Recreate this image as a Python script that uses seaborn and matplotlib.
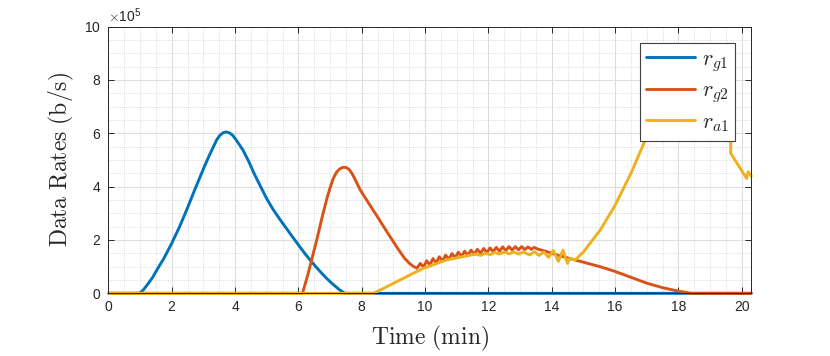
import numpy as np
import pandas as pd
import matplotlib
matplotlib.use("Agg")
import matplotlib.pyplot as plt
from matplotlib.ticker import MultipleLocator
import seaborn as sns

# data rates in units of 1e5 b/s, time in minutes
t_g1 = [0, 0.98, 1.1, 1.25, 1.4, 1.53, 1.75, 2.0, 2.25, 2.5, 2.7, 2.9, 3.05, 3.2, 3.32, 3.42,
        3.52, 3.62, 3.72, 3.82, 3.92, 4.02, 4.14, 4.26, 4.43, 4.6, 4.8, 5.0, 5.2, 5.4,
        5.6, 5.8, 6.0, 6.2, 6.37, 6.55, 6.7, 6.9, 7.1, 7.3, 7.47, 20.3]
r_g1 = [0, 0, 0.12, 0.35, 0.6, 0.87, 1.3, 1.87, 2.5, 3.2, 3.8, 4.37, 4.8, 5.2, 5.5, 5.75,
        5.92, 6.02, 6.05, 6.02, 5.93, 5.78, 5.57, 5.35, 4.95, 4.5, 4.02, 3.55, 3.15, 2.8,
        2.47, 2.14, 1.82, 1.5, 1.25, 1.0, 0.8, 0.55, 0.33, 0.13, 0, 0]

t_g2 = [0, 6.13, 6.3, 6.45, 6.58, 6.75, 6.9, 7.0, 7.1, 7.2, 7.3, 7.4, 7.5, 7.6, 7.7, 7.8,
        7.95, 8.1, 8.3, 8.47, 8.65, 8.8, 9.0, 9.16, 9.35, 9.5, 9.62, 9.74,
        9.85, 9.95, 10.05, 10.15, 10.25, 10.35, 10.45, 10.55, 10.65, 10.75, 10.85, 10.95,
        11.05, 11.15, 11.25, 11.35, 11.45, 11.55, 11.65, 11.75, 11.85, 11.95, 12.05, 12.15,
        12.25, 12.35, 12.45, 12.55, 12.65, 12.75, 12.85, 12.95, 13.05, 13.15, 13.25, 13.35,
        13.45, 13.55, 13.8, 14.16, 14.74, 15.52, 16.0, 16.5, 17.0, 17.5, 18.0, 18.4, 20.3]
r_g2 = [0, 0, 0.7, 1.4, 2.0, 2.85, 3.55, 3.95, 4.3, 4.53, 4.66, 4.72, 4.72, 4.65, 4.48, 4.25,
        3.88, 3.6, 3.23, 2.92, 2.58, 2.3, 1.93, 1.64, 1.32, 1.13, 1.02, 0.94,
        1.12, 0.98, 1.22, 1.06, 1.30, 1.14, 1.37, 1.21, 1.43, 1.27, 1.49, 1.33,
        1.54, 1.38, 1.58, 1.42, 1.62, 1.46, 1.65, 1.50, 1.68, 1.53, 1.70, 1.56,
        1.72, 1.58, 1.74, 1.60, 1.75, 1.62, 1.75, 1.63, 1.75, 1.64, 1.74, 1.65,
        1.72, 1.66, 1.58, 1.44, 1.25, 1.0, 0.82, 0.6, 0.38, 0.21, 0.08, 0, 0]

t_a1 = [0, 8.37, 8.58, 9.21, 9.95, 10.68, 11.3, 11.6, 11.75, 11.9, 12.05, 12.2, 12.35, 12.5,
        12.65, 12.8, 12.95, 13.1, 13.3, 13.45, 13.6, 13.75, 13.9, 14.05, 14.21, 14.35, 14.5,
        14.55, 14.74, 15.0, 15.53, 16.0, 16.5, 16.95, 17.3, 18.5, 19.65, 19.65, 20.15, 20.2, 20.3]
r_a1 = [0, 0, 0.12, 0.5, 0.94, 1.25, 1.4, 1.47, 1.42, 1.5, 1.45, 1.53, 1.47, 1.55, 1.48,
        1.55, 1.47, 1.55, 1.44, 1.56, 1.42, 1.55, 1.35, 1.6, 1.2, 1.62, 1.12,
        1.3, 1.25, 1.55, 2.37, 3.3, 4.5, 5.74, 6.6, 6.8, 6.8, 5.25, 4.31, 4.56, 4.4]

labels = [r"$r_{g1}$", r"$r_{g2}$", r"$r_{a1}$"]
colors = ["#0072BD", "#D95319", "#EDB120"]

df = pd.concat([
    pd.DataFrame({"t": t_g1, "rate": np.array(r_g1) * 1e5, "series": labels[0]}),
    pd.DataFrame({"t": t_g2, "rate": np.array(r_g2) * 1e5, "series": labels[1]}),
    pd.DataFrame({"t": t_a1, "rate": np.array(r_a1) * 1e5, "series": labels[2]}),
], ignore_index=True)

sns.set_theme(style="ticks")
plt.rcParams["font.family"] = ["Liberation Sans", "DejaVu Sans"]
plt.rcParams["mathtext.fontset"] = "cm"

fig = plt.figure(figsize=(8.3, 3.56), dpi=100)
ax = fig.add_axes([0.1305, 0.1761, 0.7747, 0.7492])

sns.lineplot(data=df, x="t", y="rate", hue="series", palette=colors,
             estimator=None, sort=False, linewidth=2.1, ax=ax)
for ln in ax.lines:
    ln.set_clip_on(False)
    ln.set_solid_joinstyle("round")

ax.set_xlim(0, 20.3)
ax.set_ylim(0, 1e6)
ax.xaxis.set_major_locator(MultipleLocator(2))
ax.xaxis.set_minor_locator(MultipleLocator(0.5))
ax.yaxis.set_major_locator(MultipleLocator(2e5))
ax.yaxis.set_minor_locator(MultipleLocator(0.5e5))
ax.ticklabel_format(axis="y", style="sci", scilimits=(5, 5), useMathText=True)
ax.yaxis.get_offset_text().set_fontsize(10)
ax.yaxis.get_offset_text().set_color("#262626")

ax.grid(which="major", color="#dedede", linewidth=0.8, linestyle="-")
ax.grid(which="minor", color="#cfcfcf", linewidth=0.6, linestyle=":")
ax.set_axisbelow(True)
ax.tick_params(which="major", direction="in", length=4.5, width=0.7, top=True, right=True,
               labelsize=10, colors="#262626", pad=5)
ax.tick_params(which="minor", length=0)
for s in ax.spines.values():
    s.set_color("#262626")
    s.set_linewidth(0.7)

ax.set_xlabel(r"$\mathrm{Time\ (min)}$", fontsize=17, labelpad=7)
ax.set_ylabel(r"$\mathrm{Data\ Rates\ (b/s)}$", fontsize=17, labelpad=6)

leg = ax.legend(loc="upper right", bbox_to_anchor=(0.975, 0.94), borderaxespad=0,
                fontsize=16, handlelength=2.2, handletextpad=0.3, labelspacing=0.3,
                borderpad=0.3, fancybox=False, framealpha=1, edgecolor="#404040")
leg.get_frame().set_linewidth(0.8)
for h in leg.get_lines():
    h.set_linewidth(2.1)

fig.savefig("out.png", dpi=100)
